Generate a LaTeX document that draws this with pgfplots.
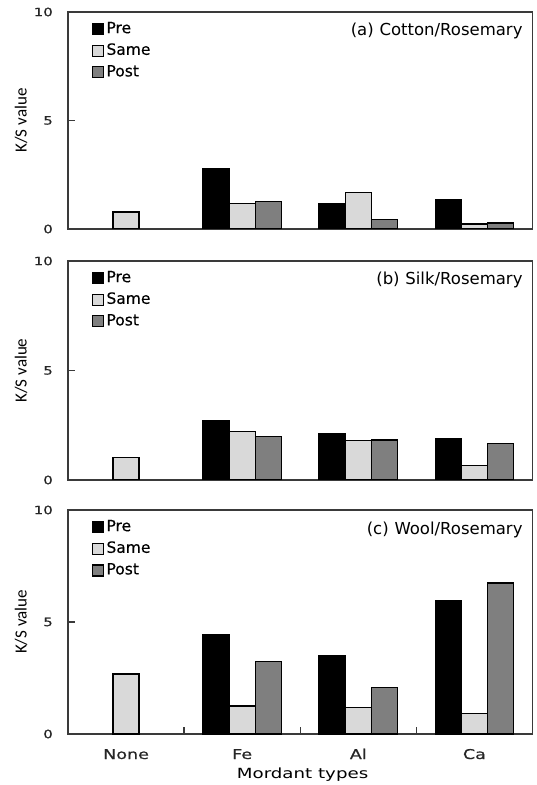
\documentclass[border=0pt]{standalone}
\usepackage{fontspec}
\setmainfont{DejaVu Sans}
\newfontfamily\carlito{Carlito}
\newfontfamily\widebold[FakeStretch=1.3,FakeBold=0.5]{DejaVu Sans}
\newfontfamily\widefont[FakeStretch=1.3]{DejaVu Sans}
\newfontfamily\legfont[FakeBold=0.3]{DejaVu Sans}
\usepackage{pgfplots}
\pgfplotsset{compat=1.18}
\definecolor{samec}{HTML}{D9D9D9}
\definecolor{postc}{HTML}{7F7F7F}
\definecolor{axc}{HTML}{3A3A3A}
\pgfplotsset{
  sq/.style={legend image code/.code={\draw[##1, line width=1.2pt] (0pt,-7pt) rectangle (11pt,4pt); \path (13pt,0pt);}},
  panel/.style={
    ybar, scale only axis, width=464.5pt,
    xmin=-0.5, xmax=3.5, ymin=0, ymax=10,
    ytick={0,5,10}, ytick pos=left, tick align=inside, major tick length=6.5pt,
    axis line style={line width=1.3pt, axc},
    tick style={line width=1.3pt, draw=axc},
    /pgf/number format/assume math mode=true,
    yticklabel style={font=\widebold\fontsize{11.5}{11.5}\selectfont, anchor=east, inner sep=0pt, xshift=-15pt, text=black!85},
    ylabel={\carlito\fontsize{17}{17}\selectfont K/S value},
    every axis y label/.style={at={(axis description cs:-0.101,0.5)}, rotate=90, anchor=center},
    bar width=0.225,
    every axis plot/.append style={line width=1.4pt},
    legend style={draw=none, fill=none, at={(rel axis cs:0,1)}, anchor=north west,
      xshift=21pt, yshift=-8pt, font=\legfont\fontsize{15.5}{15.5}\selectfont,
      nodes={inner sep=0pt, text height=11pt, text depth=0pt}, row sep=8.5pt},
    legend cell align=left,
  },
}
\begin{document}
\begin{tikzpicture}[x=1pt,y=1pt]
\path[use as bounding box] (0,0) rectangle (537,785);

% (a) Cotton
\begin{axis}[panel, height=217pt, at={(68pt,556pt)}, anchor=south west, xtick=\empty]
\addplot[fill=black, draw=black, bar shift=-0.225, sq] coordinates {(1,2.79) (2,1.15) (3,1.34)};
\addplot[fill=samec, draw=black, bar shift=0, sq] coordinates {(0,0.79) (1,1.18) (2,1.68) (3,0.23)};
\addplot[fill=postc, draw=black, bar shift=0.225, sq] coordinates {(1,1.28) (2,0.43) (3,0.27)};
\legend{Pre,Same,Post}
\node[anchor=base east, inner sep=0pt, font=\fontsize{16.5}{16.5}\selectfont, xshift=-9.8pt, yshift=-24pt] at (rel axis cs:1,1) {(a)\hspace{0.35em}Cotton/Rosemary};
\end{axis}

% (b) Silk
\begin{axis}[panel, height=219pt, at={(68pt,305pt)}, anchor=south west, xtick=\empty]
\addplot[fill=black, draw=black, bar shift=-0.225, sq] coordinates {(1,2.69) (2,2.10) (3,1.89)};
\addplot[fill=samec, draw=black, bar shift=0, sq] coordinates {(0,1.03) (1,2.22) (2,1.81) (3,0.65)};
\addplot[fill=postc, draw=black, bar shift=0.225, sq] coordinates {(1,1.98) (2,1.83) (3,1.68)};
\legend{Pre,Same,Post}
\node[anchor=base east, inner sep=0pt, font=\fontsize{16.5}{16.5}\selectfont, xshift=-9.8pt, yshift=-24pt] at (rel axis cs:1,1) {(b)\hspace{0.35em}Silk/Rosemary};
\end{axis}

% (c) Wool
\begin{axis}[panel, height=224pt, at={(68pt,51pt)}, anchor=south west,
  xtick={0.5,1.5,2.5}, xticklabels={}, xtick pos=bottom,
  extra x ticks={0,1,2,3}, extra x tick labels={None,Fe,Al,Ca},
  extra x tick style={tick style={draw=none}},
  xticklabel style={font=\widebold\fontsize{13.5}{13.5}\selectfont, anchor=base, inner sep=0pt, yshift=-25pt, text=black!85},
  xlabel={Mordant types},
  every axis x label/.style={at={(axis description cs:0.505,0)}, anchor=base, yshift=-44pt, font=\widefont\fontsize{14}{14}\selectfont},
]
\addplot[fill=black, draw=black, bar shift=-0.225, sq] coordinates {(1,4.42) (2,3.51) (3,5.93)};
\addplot[fill=samec, draw=black, bar shift=0, sq] coordinates {(0,2.68) (1,1.25) (2,1.17) (3,0.91)};
\addplot[fill=postc, draw=black, bar shift=0.225, sq] coordinates {(1,3.24) (2,2.08) (3,6.74)};
\legend{Pre,Same,Post}
\node[anchor=base east, inner sep=0pt, font=\fontsize{16.5}{16.5}\selectfont, xshift=-9.8pt, yshift=-24pt] at (rel axis cs:1,1) {(c)\hspace{0.35em}Wool/Rosemary};
\end{axis}
\end{tikzpicture}
\end{document}
